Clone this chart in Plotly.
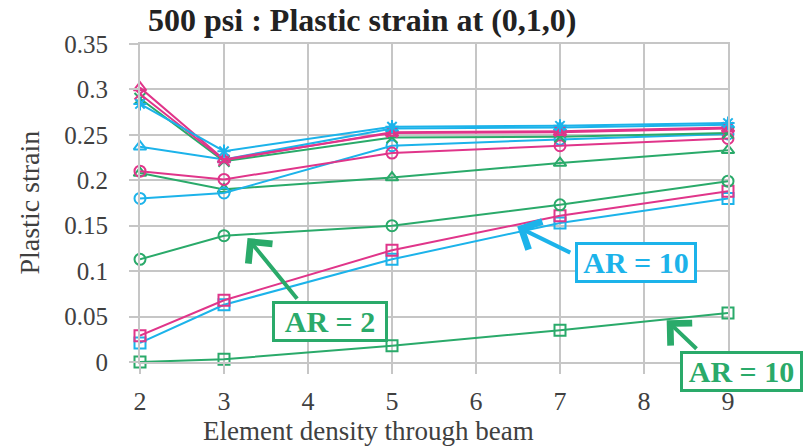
import plotly.graph_objects as go

# ---- data ----
density = [2, 3, 5, 7, 9]

blue_asterisk = [0.284, 0.232, 0.259, 0.260, 0.263]
blue_triangle = [0.237, 0.223, 0.257, 0.258, 0.261]
blue_circle = [0.180, 0.186, 0.238, 0.245, 0.251]
blue_square = [0.021, 0.063, 0.113, 0.153, 0.180]

pink_triangle = [0.302, 0.223, 0.252, 0.253, 0.257]
pink_x = [0.295, 0.222, 0.253, 0.254, 0.258]
pink_circle = [0.210, 0.201, 0.230, 0.238, 0.246]
pink_square = [0.029, 0.068, 0.123, 0.161, 0.188]

green_x = [0.290, 0.221, 0.247, 0.248, 0.252]
green_triangle = [0.208, 0.190, 0.203, 0.219, 0.233]
green_circle = [0.113, 0.139, 0.150, 0.173, 0.199]
green_square = [0.000, 0.003, 0.018, 0.035, 0.054]

x_ticks = [2, 3, 4, 5, 6, 7, 8, 9]

BLUE = "#1cb3ea"
PINK = "#e0358a"
GREEN = "#2aaa6a"
GRID = "#c6c6c6"
FONT = "Liberation Serif, Times New Roman, Liberation Sans, sans-serif"

series = [
    (green_square, GREEN, "square-open"),
    (blue_square, BLUE, "square-open"),
    (pink_square, PINK, "square-open"),
    (green_circle, GREEN, "circle-open"),
    (green_triangle, GREEN, "triangle-up-open"),
    (blue_circle, BLUE, "circle-open"),
    (pink_circle, PINK, "circle-open"),
    (blue_triangle, BLUE, "triangle-up-open"),
    (green_x, GREEN, "x-thin-open"),
    (pink_triangle, PINK, "triangle-up-open"),
    (pink_x, PINK, "x-thin-open"),
    (blue_asterisk, BLUE, "asterisk-open"),
]

fig = go.Figure()
for ys, col, sym in series:
    fig.add_trace(go.Scatter(
        x=density, y=ys, mode="lines+markers",
        line=dict(color=col, width=2),
        marker=dict(symbol=sym, size=11, color=col, line=dict(color=col, width=2)),
        cliponaxis=False, showlegend=False,
    ))

ann = []
def box(text, x, y, col, w, ref="x"):
    r = "paper" if ref == "paper" else None
    return dict(text=f"<b>{text}</b>", x=x, y=y,
                xref=r or "x", yref=r or "y", showarrow=False,
                xanchor="center", yanchor="middle", width=w, height=35,
                font=dict(family=FONT, size=30, color=col), bgcolor="white",
                bordercolor=col, borderwidth=3, borderpad=0)

def arrow(x, y, ax, ay, col):
    return dict(text="", x=x, y=y, ax=ax, ay=ay, xref="x", yref="y", axref="x", ayref="y",
                showarrow=True, arrowhead=4, arrowsize=1.5, arrowwidth=4, arrowcolor=col,
                standoff=0, startstandoff=0)

ann.append(arrow(3.28, 0.1365, 3.885, 0.068, GREEN))
ann.append(arrow(6.49, 0.149, 7.14, 0.1196, BLUE))
ann.append(arrow(8.27, 0.046, 8.643, 0.013, GREEN))
ann.append(box("AR = 2", 4.266, 0.045, GREEN, 110))
ann.append(box("AR = 10", 7.906, 0.110, BLUE, 116))
ann.append(box("AR = 10", 1.0229, -0.0284, GREEN, 117, ref="paper"))

# axis titles
ann.append(dict(text="Element density through beam", x=0.388, y=-0.217,
                xref="paper", yref="paper", xanchor="center", yanchor="middle",
                showarrow=False, font=dict(family=FONT, size=27, color="#404040")))
ann.append(dict(text="Plastic strain", x=-0.1895, y=0.5, textangle=-90,
                xref="paper", yref="paper", xanchor="center", yanchor="middle",
                showarrow=False, font=dict(family=FONT, size=28, color="#404040")))

fig.update_layout(
    width=805, height=446,
    margin=dict(l=139.5, r=77, t=44, b=84),
    paper_bgcolor="white", plot_bgcolor="white",
    font=dict(family=FONT, color="#404040"),
    title=dict(text="<b>500 psi : Plastic strain at (0,1,0)</b>",
               x=0.45, xref="container", xanchor="center",
               y=1 - 20 / 446, yref="container", yanchor="middle",
               font=dict(family=FONT, size=32, color="#222222")),
    annotations=ann,
)
fig.update_xaxes(
    range=[2, 9], tickvals=x_ticks, ticktext=[str(v) for v in x_ticks],
    showgrid=True, gridcolor=GRID, gridwidth=2,
    showline=True, linecolor=GRID, linewidth=2, mirror=True,
    ticks="outside", ticklen=10, tickwidth=2, tickcolor=GRID,
    ticklabelstandoff=5,
    tickfont=dict(family=FONT, size=26, color="#404040"),
    zeroline=False,
)
fig.update_yaxes(
    range=[0, 0.35], dtick=0.05, tick0=0,
    showgrid=True, gridcolor=GRID, gridwidth=2,
    showline=True, linecolor=GRID, linewidth=2, mirror=True,
    ticks="outside", ticklen=9, tickwidth=2, tickcolor=GRID,
    ticklabelstandoff=16,
    tickfont=dict(family=FONT, size=25, color="#404040"),
    zeroline=False,
)

fig.write_html("out.html")
